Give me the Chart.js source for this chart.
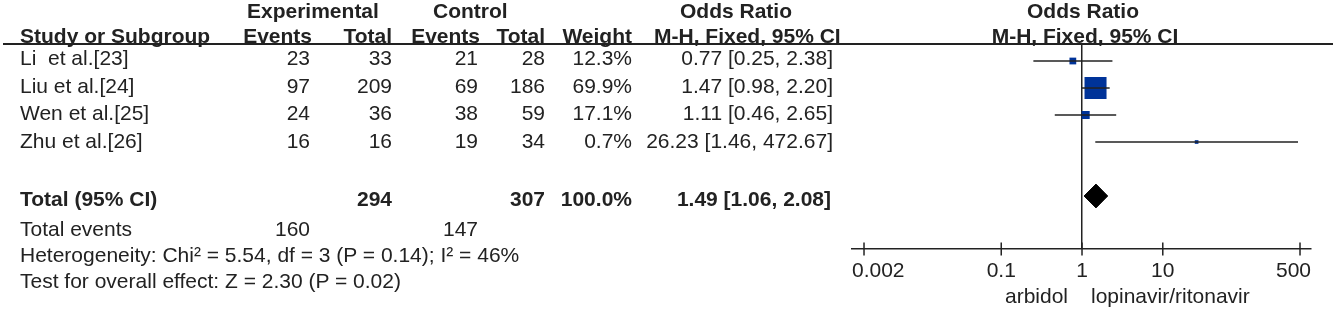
<!DOCTYPE html>
<html>
<head>
<meta charset="utf-8">
<script src="https://cdn.jsdelivr.net/npm/chart.js@4.4.1/dist/chart.umd.min.js"></script>
<style>
  html, body { margin: 0; padding: 0; background: #fff; }
  #wrap { position: relative; width: 1333px; height: 309px; overflow: hidden;
          font-family: "Liberation Sans", Arial, sans-serif; font-size: 21px; color: #222; }
  #wrap canvas { position: absolute; left: 0; top: 0; }
  .t { position: absolute; white-space: pre; line-height: 21px; height: 21px; }
  .b { font-weight: bold; }
  #rule { position: absolute; left: 3px; top: 43px; width: 1330px; height: 1.5px; background: #222; }
</style>
</head>
<body>
<div id="wrap">
  <canvas id="chart" width="1333" height="309"></canvas>
  <div id="rule"></div>
</div>
<script>
// study data
var studies   = ['Li  et al.[23]', 'Liu et al.[24]', 'Wen et al.[25]', 'Zhu et al.[26]'];
var expEvents = [23, 97, 24, 16];
var expTotal  = [33, 209, 36, 16];
var ctlEvents = [21, 69, 38, 19];
var ctlTotal  = [28, 186, 59, 34];
var weights   = [12.3, 69.9, 17.1, 0.7];
var oddsRatio = [0.77, 1.47, 1.11, 26.23];
var ciLow     = [0.25, 0.98, 0.46, 1.46];
var ciHigh    = [2.38, 2.20, 2.65, 472.67];

// pooled estimate
var totalOR   = 1.49;
var totalLow  = 1.06;
var totalHigh = 2.08;

var xTicks = [0.002, 0.1, 1, 10, 500];
var heterogeneity = 'Heterogeneity: Chi\u00b2 = 5.54, df = 3 (P = 0.14); I\u00b2 = 46%';
var overallTest   = 'Test for overall effect: Z = 2.30 (P = 0.02)';
var favoursLeft  = 'arbidol';
var favoursRight = 'lopinavir/ritonavir';

function sum(a) { return a.reduce(function (s, v) { return s + v; }, 0); }
function ciText(or, lo, hi) { return or.toFixed(2) + ' [' + lo.toFixed(2) + ', ' + hi.toFixed(2) + ']'; }

var wrap = document.getElementById('wrap');
function put(text, x, base, align, bold) {
  var d = document.createElement('div');
  d.className = 't' + (bold ? ' b' : '');
  d.textContent = text;
  d.style.top = (base - 18) + 'px';
  if (align === 'right') {
    d.style.left = (x - 400) + 'px'; d.style.width = '400px'; d.style.textAlign = 'right';
  } else if (align === 'center') {
    d.style.left = (x - 200) + 'px'; d.style.width = '400px'; d.style.textAlign = 'center';
  } else {
    d.style.left = x + 'px';
  }
  wrap.appendChild(d);
}

// table
put('Experimental', 247, 17.5, 'left', true);
put('Control', 433, 17.5, 'left', true);
put('Odds Ratio', 680, 17.5, 'left', true);
put('Odds Ratio', 1083, 17.5, 'center', true);
put('Study or Subgroup', 20, 43, 'left', true);
put('Events', 312, 43, 'right', true);
put('Total', 392, 43, 'right', true);
put('Events', 480, 43, 'right', true);
put('Total', 545, 43, 'right', true);
put('Weight', 632, 43, 'right', true);
put('M-H, Fixed, 95% CI', 654, 43, 'left', true);
put('M-H, Fixed, 95% CI', 1085, 43, 'center', true);

var rowBase = [65, 92.5, 120, 147.5];
studies.forEach(function (s, i) {
  var b = rowBase[i];
  put(s, 20, b, 'left');
  put(String(expEvents[i]), 310, b, 'right');
  put(String(expTotal[i]), 392, b, 'right');
  put(String(ctlEvents[i]), 478, b, 'right');
  put(String(ctlTotal[i]), 545, b, 'right');
  put(weights[i].toFixed(1) + '%', 632, b, 'right');
  put(ciText(oddsRatio[i], ciLow[i], ciHigh[i]), 833, b, 'right');
});

put('Total (95% CI)', 20, 206, 'left', true);
put(String(sum(expTotal)), 392, 206, 'right', true);
put(String(sum(ctlTotal)), 545, 206, 'right', true);
put(sum(weights).toFixed(1) + '%', 632, 206, 'right', true);
put(ciText(totalOR, totalLow, totalHigh), 831, 206, 'right', true);
put('Total events', 20, 236, 'left');
put(String(sum(expEvents)), 310, 236, 'right');
put(String(sum(ctlEvents)), 478, 236, 'right');
put(heterogeneity, 20, 262, 'left');
put(overallTest, 20, 288, 'left');
put(favoursLeft, 1068, 303, 'right');
put(favoursRight, 1091, 303, 'left');

// forest plot
var totalRow = studies.length + 1;
function boxSide(w) { return 3.5 + 0.265 * w; }

var datasets = studies.map(function (s, i) {
  return {
    type: 'line',
    data: [{ x: ciLow[i], y: i }, { x: ciHigh[i], y: i }],
    borderColor: '#222', borderWidth: 1.5, pointRadius: 0
  };
});
datasets.push({
  type: 'scatter',
  data: studies.map(function (s, i) { return { x: oddsRatio[i], y: i }; }),
  pointStyle: 'rect',
  pointRadius: function (c) { return boxSide(weights[c.dataIndex]) / Math.SQRT2; },
  backgroundColor: '#003399', borderWidth: 0
});
var dh = 0.44;
datasets.push({
  type: 'line',
  data: [
    { x: totalLow, y: totalRow }, { x: totalOR, y: totalRow - dh },
    { x: totalHigh, y: totalRow }, { x: totalOR, y: totalRow + dh },
    { x: totalLow, y: totalRow }
  ],
  borderColor: '#000', borderWidth: 1, backgroundColor: '#000',
  fill: 'shape', pointRadius: 0, tension: 0
});

var axisMarks = {
  id: 'axisMarks',
  afterDraw: function (chart) {
    var ctx = chart.ctx, sx = chart.scales.x, yAxis = sx.top;
    ctx.save();
    ctx.strokeStyle = '#222';
    ctx.lineWidth = 1.5;
    ctx.fillStyle = '#222';
    ctx.font = '21px "Liberation Sans", Arial, sans-serif';
    ctx.textBaseline = 'alphabetic';
    sx.ticks.forEach(function (t) {
      var px = sx.getPixelForValue(t.value);
      ctx.beginPath();
      ctx.moveTo(px, yAxis - 6.5);
      ctx.lineTo(px, yAxis + 6.5);
      ctx.stroke();
      var label = String(t.value);
      var w = ctx.measureText(label).width;
      var left = Math.min(Math.max(px - w / 2, sx.left), sx.right - w);
      ctx.fillText(label, left, 277);
    });
    ctx.restore();
  }
};

new Chart(document.getElementById('chart').getContext('2d'), {
  type: 'scatter',
  data: { datasets: datasets },
  options: {
    responsive: false,
    animation: false,
    events: [],
    layout: { padding: { left: 852, right: 22, top: 44, bottom: 0 } },
    plugins: { legend: { display: false }, tooltip: { enabled: false } },
    scales: {
      x: {
        type: 'logarithmic',
        min: 0.00142,
        max: 684,
        afterBuildTicks: function (s) { s.ticks = xTicks.map(function (v) { return { value: v }; }); },
        afterFit: function (s) { s.height = 60; },
        ticks: { display: false },
        grid: {
          drawTicks: false,
          lineWidth: 1.5,
          color: function (c) { return c.tick && c.tick.value === 1 ? '#222' : 'rgba(0,0,0,0)'; }
        },
        border: { display: true, color: '#222', width: 1.5 }
      },
      y: { type: 'linear', reverse: true, min: -0.63, max: 6.963, display: false }
    }
  },
  plugins: [axisMarks]
});
</script>
</body>
</html>
